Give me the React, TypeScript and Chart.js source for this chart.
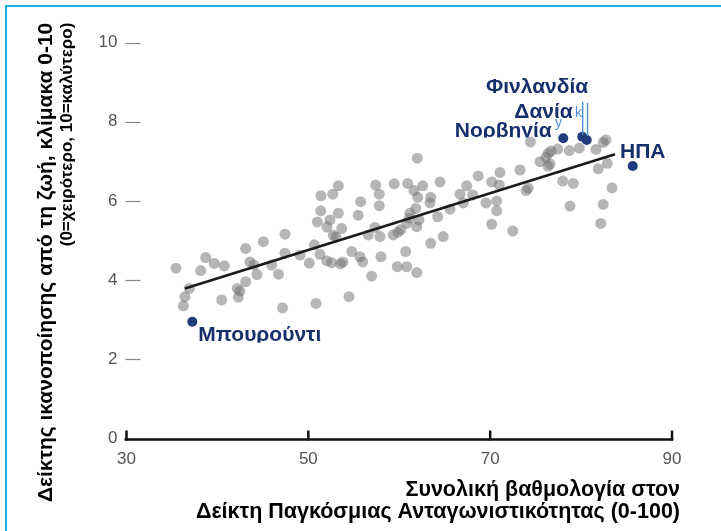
import React, { useEffect, useRef } from "react";
import { Chart, registerables } from "chart.js";

Chart.register(...registerables);

// Gray points: competitiveness score (x) and life satisfaction (y)
const competitiveness = [
  35.44, 36.25, 36.43, 36.91, 38.16, 38.71, 39.66, 40.76, 40.47, 42.19,
  42.48, 42.30, 43.11, 43.11, 43.58, 44.02, 44.35, 45.05, 45.97, 46.72,
  47.43, 47.43, 47.16, 49.08, 50.11, 50.66, 50.84, 51.28, 50.99, 51.36,
  51.39, 52.68, 53.30, 53.30, 52.38, 52.05, 53.67, 52.75, 53.04, 52.02,
  52.57, 53.54, 53.81, 54.47, 54.77, 55.49, 55.68, 55.98, 55.76, 57.41,
  57.80, 57.80, 59.45, 60.93, 61.62, 62.03, 61.98, 62.58, 64.48, 63.46,
  63.38, 61.81, 61.18, 61.10, 62.17, 61.92, 64.23, 65.58, 66.68, 67.42,
  68.08, 67.04, 69.54, 70.72, 70.72, 70.17, 72.48, 57.33, 57.88, 59.34,
  60.16, 59.86, 56.59, 60.82, 64.84, 63.46, 57.99, 60.71, 59.78, 60.82,
  61.92, 56.97, 68.69, 70.17, 71.00, 71.08, 73.28, 74.19, 73.94, 74.43,
  75.48, 82.44, 82.74, 81.64, 79.80, 78.70, 77.43, 76.39, 76.69, 76.14,
  76.58, 76.36, 82.88, 81.89, 77.98, 79.14, 83.40, 78.78, 82.44, 82.16,
];
const satisfaction = [
  4.30, 3.35, 3.58, 3.79, 4.24, 4.57, 4.42, 4.36, 3.50, 3.79,
  3.72, 3.57, 3.96, 4.80, 4.46, 4.38, 4.14, 4.97, 4.38, 4.15,
  5.16, 4.68, 3.30, 4.63, 4.43, 4.89, 3.41, 4.65, 5.47, 5.75,
  6.13, 6.17, 6.38, 5.69, 5.52, 5.34, 5.30, 5.13, 5.09, 4.49,
  4.44, 4.41, 4.46, 3.58, 4.72, 5.64, 4.59, 4.46, 5.98, 6.40,
  6.17, 5.88, 6.43, 6.44, 6.26, 6.09, 7.08, 6.38, 6.48, 6.09,
  5.95, 5.81, 5.69, 5.56, 5.52, 5.35, 5.60, 5.79, 6.17, 6.38,
  6.15, 5.95, 5.95, 6.00, 5.75, 5.41, 5.24, 5.33, 5.10, 5.14,
  5.27, 5.21, 5.14, 5.43, 5.10, 4.93, 4.59, 4.72, 4.34, 4.34,
  4.19, 4.10, 6.63, 6.48, 6.40, 6.72, 6.78, 6.32, 6.26, 7.49,
  6.99, 7.48, 7.54, 7.30, 7.33, 7.27, 7.31, 7.20, 7.26, 7.10,
  6.93, 6.88, 6.95, 6.81, 6.50, 6.44, 6.33, 5.87, 5.91, 5.43,
];

// Highlighted countries
const highlightNames = ["Μπουρούντι", "Νορβηγία", "Φινλανδία", "Δανία", "ΗΠΑ"];
const highlightX = [37.24, 78.04, 80.13, 80.62, 85.68];
const highlightY = [2.95, 7.58, 7.62, 7.54, 6.88];

// Trend line end points
const trendX = [36.43, 83.73];
const trendY = [3.79, 7.18];

// Axes
const xTicks = [30, 50, 70, 90];
const yTicks = [0, 2, 4, 6, 8, 10];
const xTitle = ["Συνολική βαθμολογία στον", "Δείκτη Παγκόσμιας Ανταγωνιστικότητας (0-100)"];
const yTitle = ["Δείκτης ικανοποίησης από τη ζωή, κλίμακα 0-10", "(0=χειρότερο, 10=καλύτερο)"];

const NAVY_TEXT = "#16306c";
const NAVY_DOT = "#203a7c";
const LIGHT_BLUE = "#4a8fd8";
const FRAME = "#1ab0ea";
const FONT = "'Liberation Sans', Arial, Helvetica, sans-serif";

// label styling (offsets relative to each highlighted point, in pixels)
const labelStyle = [
  { align: "left", dx: 6, dy: 19.5, clip: 21 },
  { align: "right", dx: -11.5, dy: -1, clip: -0.8 },
  { align: "right", dx: 6, dy: -44, clip: null },
  { align: "right", dx: -14, dy: -21.7, clip: null },
  { align: "left", dx: -12.7, dy: -8, clip: null },
];

// y title line styling
const yTitleStyle = [
  { cx: 46, size: 21 },
  { cx: 67.5, size: 17 },
];

const decorPlugin = {
  id: "decor",
  beforeDraw(chart: any) {
    const { ctx, width, height } = chart;
    ctx.save();
    ctx.fillStyle = "#ffffff";
    ctx.fillRect(0, 0, width, height);
    ctx.fillStyle = FRAME;
    ctx.fillRect(5, 5, width - 5, 2);
    ctx.fillRect(5, 5, 2, height - 5);
    ctx.restore();
  },
  beforeDatasetsDraw(chart: any) {
    const { ctx } = chart;
    const xs = chart.scales.x;
    const ys = chart.scales.y;
    const y0 = ys.getPixelForValue(0);
    ctx.save();
    // y tick dashes
    ctx.strokeStyle = "#888";
    ctx.lineWidth = 1.2;
    yTicks.forEach((v) => {
      if (v === 0) return;
      const py = Math.round(ys.getPixelForValue(v)) + 0.5;
      ctx.beginPath();
      ctx.moveTo(xs.left - 1, py);
      ctx.lineTo(xs.left + 14, py);
      ctx.stroke();
    });
    // x axis line with upward ticks
    ctx.strokeStyle = "#111";
    ctx.lineWidth = 2.5;
    ctx.lineCap = "butt";
    const x30 = xs.getPixelForValue(xTicks[0]);
    const x90 = xs.getPixelForValue(xTicks[xTicks.length - 1]);
    ctx.beginPath();
    ctx.moveTo(x30 - 2, y0 + 1);
    ctx.lineTo(x90 + 1.25, y0 + 1);
    ctx.stroke();
    xTicks.forEach((v) => {
      const px = xs.getPixelForValue(v);
      ctx.beginPath();
      ctx.moveTo(px, y0 + 2);
      ctx.lineTo(px, y0 - 8);
      ctx.stroke();
    });
    ctx.restore();

    // y axis title (two lines, rotated, ending at the top of the plot)
    const top = chart.chartArea.top;
    yTitle.forEach((line, i) => {
      const st = yTitleStyle[i];
      ctx.save();
      ctx.translate(st.cx, top);
      ctx.rotate(-Math.PI / 2);
      ctx.fillStyle = "#000";
      ctx.font = `bold ${st.size}px ${FONT}`;
      ctx.textAlign = "right";
      ctx.textBaseline = "middle";
      ctx.fillText(line, 0, 0);
      ctx.restore();
    });
  },
  afterDatasetsDraw(chart: any) {
    const { ctx, width } = chart;
    const xs = chart.scales.x;
    const ys = chart.scales.y;
    const pts = highlightX.map((x, i) => ({ x: xs.getPixelForValue(x), y: ys.getPixelForValue(highlightY[i]) }));
    ctx.save();
    // leader lines and small marks near Finland / Denmark / Norway
    ctx.strokeStyle = LIGHT_BLUE;
    ctx.lineWidth = 1.4;
    ctx.beginPath();
    ctx.moveTo(pts[2].x + 0.4, pts[2].y - 35);
    ctx.lineTo(pts[2].x + 0.4, pts[2].y - 2);
    ctx.moveTo(pts[3].x + 0.8, pts[3].y - 37);
    ctx.lineTo(pts[3].x + 0.8, pts[3].y - 4);
    ctx.stroke();
    ctx.fillStyle = LIGHT_BLUE;
    ctx.font = `14px ${FONT}`;
    ctx.textAlign = "left";
    ctx.textBaseline = "alphabetic";
    ctx.fillText("k", pts[3].x - 11.7, pts[3].y - 23.3);
    ctx.fillText("y", pts[1].x - 8.3, pts[1].y - 11);
    ctx.restore();

    highlightNames.forEach((name, i) => {
      const st = labelStyle[i];
      const p = pts[i];
      ctx.save();
      if (st.clip !== null) {
        ctx.beginPath();
        ctx.rect(0, 0, width, p.y + (st.clip as number));
        ctx.clip();
      }
      ctx.fillStyle = NAVY_TEXT;
      ctx.font = `bold 21px ${FONT}`;
      ctx.textAlign = st.align as CanvasTextAlign;
      ctx.textBaseline = "alphabetic";
      ctx.fillText(name, p.x + st.dx, p.y + st.dy);
      ctx.restore();
    });
  },
};

export default function App() {
  const canvasRef = useRef<HTMLCanvasElement | null>(null);

  useEffect(() => {
    document.body.style.margin = "0";
    const canvas = canvasRef.current;
    if (!canvas) return;
    Chart.defaults.font.family = FONT;

    const grayData = competitiveness.map((x, i) => ({ x, y: satisfaction[i] }));
    const navyData = highlightX.map((x, i) => ({ x, y: highlightY[i] }));
    const trendData = trendX.map((x, i) => ({ x, y: trendY[i] }));

    const chart = new Chart(canvas, {
      type: "scatter",
      data: {
        datasets: [
          {
            label: "highlight",
            data: navyData,
            backgroundColor: NAVY_DOT,
            borderWidth: 0,
            pointRadius: 5,
            order: 0,
          },
          {
            label: "trend",
            data: trendData,
            showLine: true,
            borderColor: "#1a1a1a",
            borderWidth: 2.6,
            pointRadius: 0,
            order: 1,
          } as any,
          {
            label: "countries",
            data: grayData,
            backgroundColor: "rgba(110,110,110,0.5)",
            borderWidth: 0,
            pointRadius: 5.5,
            order: 2,
          },
        ],
      },
      options: {
        responsive: false,
        animation: false,
        devicePixelRatio: 1,
        layout: { padding: { left: 0, right: 41, top: 22.7, bottom: 0 } },
        plugins: { legend: { display: false }, tooltip: { enabled: false } },
        scales: {
          x: {
            type: "linear",
            min: 30,
            max: 90.88,
            afterBuildTicks: (s: any) => {
              s.ticks = xTicks.map((v) => ({ value: v }));
            },
            afterFit: (s: any) => {
              s.height = 92.5;
            },
            grid: { display: false, drawTicks: false },
            border: { display: false },
            ticks: { color: "#555", font: { size: 17 }, padding: 11, maxRotation: 0, autoSkip: false },
            title: {
              display: true,
              text: xTitle,
              align: "end",
              color: "#000",
              font: { size: 21.5, weight: "bold", lineHeight: "22px" },
              padding: { top: 0, bottom: 8 },
            },
          },
          y: {
            type: "linear",
            min: 0,
            max: 10.5,
            afterBuildTicks: (s: any) => {
              s.ticks = yTicks.map((v) => ({ value: v }));
            },
            afterFit: (s: any) => {
              s.width = 126.5;
            },
            grid: { display: false, drawTicks: false },
            border: { display: false },
            ticks: { color: "#555", font: { size: 17 }, padding: 9, autoSkip: false },
            title: { display: false },
          },
        },
      } as any,
      plugins: [decorPlugin],
    });
    return () => chart.destroy();
  }, []);

  return (
    <div style={{ position: "absolute", left: 0, top: 0, width: 721, height: 531 }}>
      <canvas ref={canvasRef} width={721} height={531} />
    </div>
  );
}
